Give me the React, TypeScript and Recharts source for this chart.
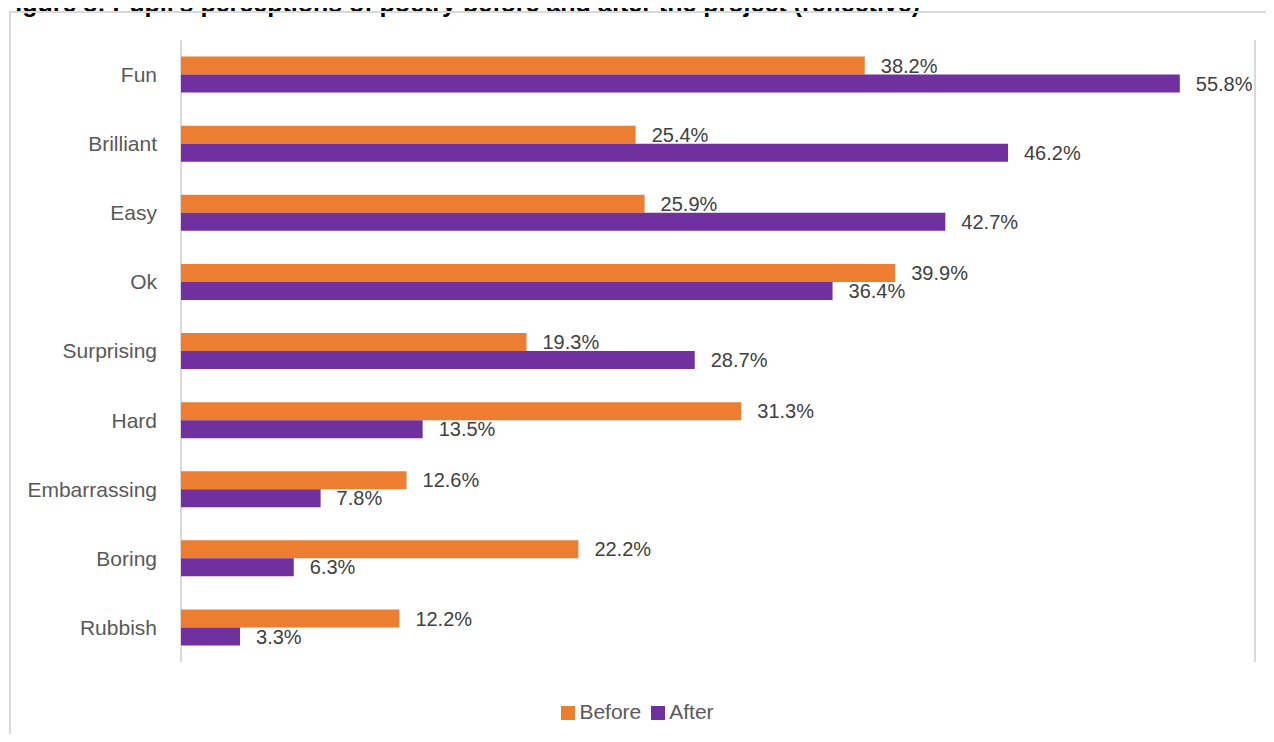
import { Bar, BarChart, CartesianGrid, LabelList, Legend, XAxis, YAxis } from "recharts";

const categories = ["Fun", "Brilliant", "Easy", "Ok", "Surprising", "Hard", "Embarrassing", "Boring", "Rubbish"];
const beforeValues = [38.2, 25.4, 25.9, 39.9, 19.3, 31.3, 12.6, 22.2, 12.2];
const afterValues = [55.8, 46.2, 42.7, 36.4, 28.7, 13.5, 7.8, 6.3, 3.3];
const xTicks = [0, 10, 20, 30, 40, 50, 60];
const seriesOrder = ["Before", "After"];

const chartData = categories.map((name, i) => ({
  name,
  before: beforeValues[i],
  after: afterValues[i],
}));

const font = '"Liberation Sans", Arial, sans-serif';
const pct = (v: any) => `${Number(v).toFixed(1)}%`;

export default function App() {
  return (
    <div
      style={{
        position: "relative",
        margin: -8,
        width: 1274,
        height: 742,
        overflow: "hidden",
        background: "#fff",
        fontFamily: font,
      }}
    >
      {/* title is cropped at the top edge in the source image */}
      <div
        style={{
          position: "absolute",
          left: 0,
          top: -9,
          fontSize: 25,
          lineHeight: "25px",
          fontWeight: "bold",
          whiteSpace: "nowrap",
          color: "#000",
        }}
      >
        Figure 8: Pupil's perceptions of poetry before and after the project (reflective)
      </div>
      <div
        style={{
          position: "absolute",
          left: 9,
          top: 11,
          width: 1270,
          height: 740,
          border: "2px solid #D9D9D9",
          boxSizing: "border-box",
        }}
      />
      <div style={{ position: "absolute", left: 10, top: 12 }}>
        <BarChart
          width={1264}
          height={730}
          data={chartData}
          layout="vertical"
          margin={{ top: 28, right: 19, left: 20, bottom: 56 }}
          barCategoryGap="24%"
          barGap={0}
        >
          <CartesianGrid horizontal={false} stroke="#D9D9D9" strokeWidth={2} />
          <XAxis
            type="number"
            domain={[0, 60]}
            ticks={xTicks}
            tick={false}
            axisLine={false}
            tickLine={false}
            height={0}
          />
          <YAxis
            type="category"
            dataKey="name"
            width={151}
            axisLine={false}
            tickLine={false}
            tickSize={0}
            tickMargin={24}
            tick={{ fill: "#595959", fontSize: 21, fontFamily: font }}
          />
          <Legend
            verticalAlign="bottom"
            iconType="square"
            iconSize={14}
            itemSorter={(item: any) => seriesOrder.indexOf(item.value)}
            wrapperStyle={{ top: 688, fontSize: 21, fontFamily: font }}
            formatter={(value: string) => <span style={{ color: "#595959" }}>{value}</span>}
          />
          <Bar dataKey="before" name="Before" fill="#ED7D31" isAnimationActive={false}>
            <LabelList
              dataKey="before"
              position="right"
              offset={16}
              formatter={pct}
              style={{ fill: "#404040", fontSize: 20, fontFamily: font }}
            />
          </Bar>
          <Bar dataKey="after" name="After" fill="#7030A0" isAnimationActive={false}>
            <LabelList
              dataKey="after"
              position="right"
              offset={16}
              formatter={pct}
              style={{ fill: "#404040", fontSize: 20, fontFamily: font }}
            />
          </Bar>
        </BarChart>
      </div>
    </div>
  );
}
